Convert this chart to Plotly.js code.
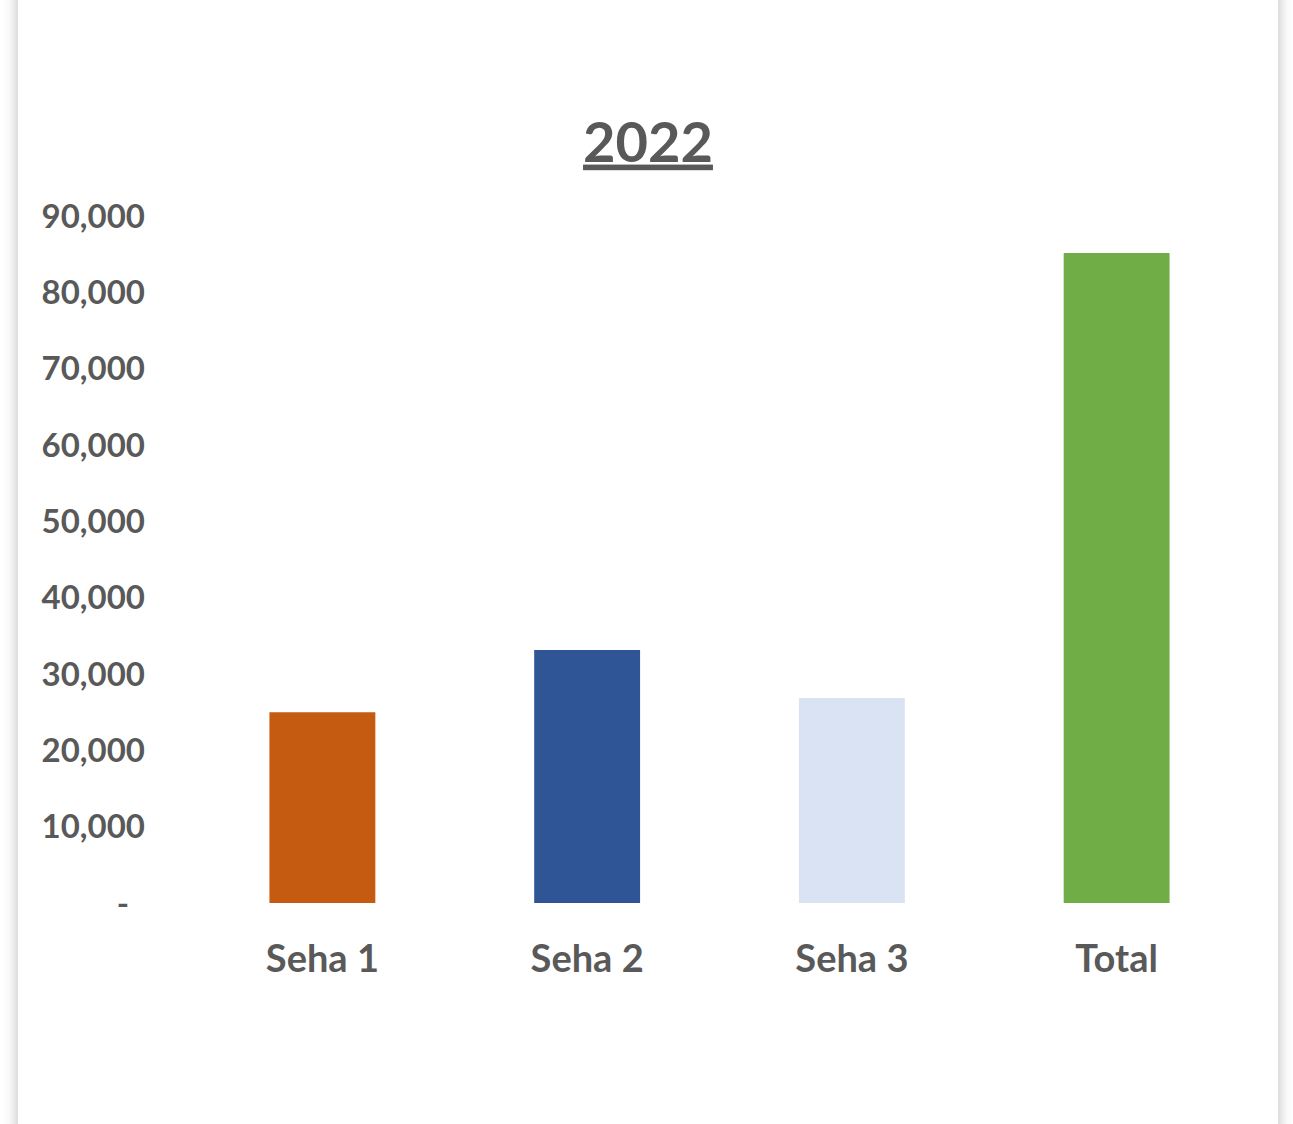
<!DOCTYPE html>
<html>
<head>
<meta charset="utf-8">
<script src="https://cdn.plot.ly/plotly-3.0.1.min.js"></script>
<style>
  html, body { margin: 0; padding: 0; background: #ffffff; width: 1293px; height: 1124px; overflow: hidden; }
  #card { position: absolute; left: 18px; top: -60px; width: 1260px; height: 1260px; background: #ffffff;
          box-shadow: 0 0 14px rgba(0,0,0,0.28); }
  #chart { position: absolute; left: 0; top: 0; width: 1293px; height: 1124px; }
</style>
</head>
<body>
<div id="card"></div>
<div id="chart"></div>
<script>
const categories = ["Seha 1", "Seha 2", "Seha 3", "Total"];
const values = [25000, 33150, 26850, 85150];
const barColors = ["#C55A11", "#2F5597", "#DAE3F3", "#70AD47"];
const yTickValues = [0, 10000, 20000, 30000, 40000, 50000, 60000, 70000, 80000, 90000];
const yTickLabels = ["-\u00a0\u00a0", "10,000", "20,000", "30,000", "40,000", "50,000", "60,000", "70,000", "80,000", "90,000"];
const chartTitle = "2022";

const textColor = "#595959";
const fontFamily = "Lato, 'Open Sans', sans-serif";

const trace = {
  type: "bar",
  x: categories,
  y: values,
  marker: { color: barColors },
  hoverinfo: "x+y"
};

const layout = {
  width: 1293,
  height: 1124,
  paper_bgcolor: "rgba(0,0,0,0)",
  plot_bgcolor: "rgba(0,0,0,0)",
  margin: { l: 189.5, r: 43.5, t: 216, b: 221, pad: 0 },
  bargap: 0.6,
  showlegend: false,
  title: {
    text: "<b><u>" + chartTitle + "</u></b>",
    font: { family: fontFamily, size: 56, color: textColor },
    x: 648 / 1293,
    xanchor: "center",
    xref: "container",
    y: 1 - 142 / 1124,
    yanchor: "middle",
    yref: "container"
  },
  xaxis: {
    type: "category",
    range: [-0.5, 3.5],
    showgrid: false,
    zeroline: false,
    showline: false,
    ticks: "",
    ticklabelstandoff: 30,
    tickfont: { family: fontFamily, size: 38, color: textColor, weight: "bold" }
  },
  yaxis: {
    range: [0, 90000],
    tickvals: yTickValues,
    ticktext: yTickLabels,
    showgrid: false,
    zeroline: false,
    showline: false,
    ticks: "",
    ticklabelstandoff: 44,
    tickfont: { family: fontFamily, size: 33, color: textColor, weight: "bold" }
  }
};

Plotly.newPlot("chart", [trace], layout, { displayModeBar: false, staticPlot: true });
</script>
</body>
</html>
